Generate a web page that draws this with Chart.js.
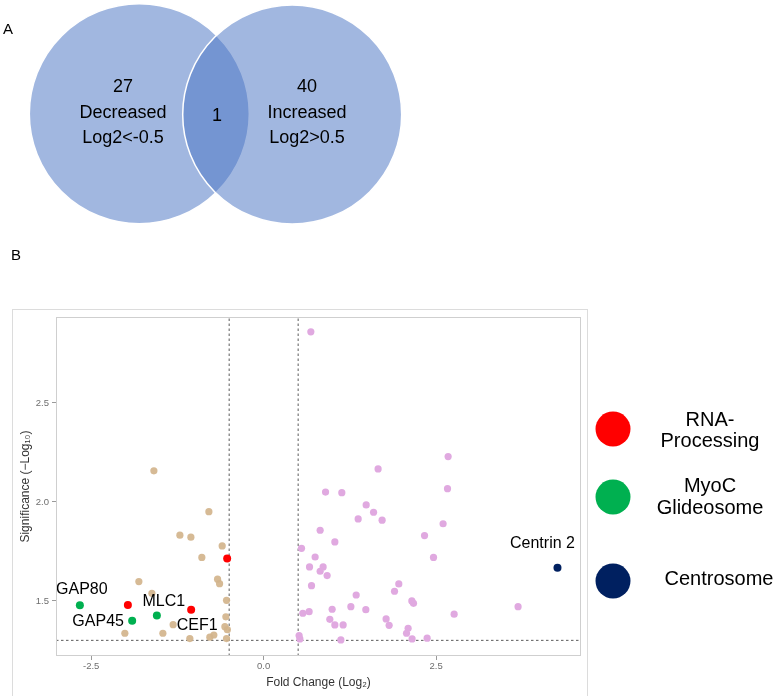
<!DOCTYPE html>
<html><head><meta charset="utf-8">
<script src="https://cdn.jsdelivr.net/npm/chart.js@4"></script>
<style>
html,body{margin:0;padding:0;background:#fff;}
#wrap{position:relative;width:780px;height:696px;overflow:hidden;font-family:'Liberation Sans',Arial,sans-serif;}
canvas{position:absolute;left:0;top:0;}
#venn{pointer-events:none;}
.panel{position:absolute;font-size:15px;color:#000;line-height:1;}
</style></head><body>
<div id="wrap">
<canvas id="volcano" width="780" height="696"></canvas>
<canvas id="venn" width="420" height="240"></canvas>
<div class="panel" style="left:3px;top:21px">A</div>
<div class="panel" style="left:11px;top:247px">B</div>
</div>
<script>
// ---------- Venn data ----------
const vennCounts = [27, 1, 40];
const vennNames  = ['Decreased', '', 'Increased'];
const vennRules  = ['Log2<-0.5', '', 'Log2>0.5'];

// ---------- Volcano data (Fold Change Log2, Significance -Log10) ----------
const decreasedFC  = [-1.591,-0.794,-1.214,-1.055,-0.601,-0.896,-1.809,-0.668,-0.639,-1.620,-0.538,-0.548,-1.312,-0.562,-1.461,-2.012,-1.070,-0.780,-0.722,-0.526,-0.538];
const decreasedSig = [ 2.157, 1.951, 1.832, 1.822, 1.778, 1.720, 1.598, 1.610, 1.587, 1.539, 1.503, 1.420, 1.380, 1.370, 1.337, 1.337, 1.310, 1.317, 1.328, 1.355, 1.310];

const increasedFC  = [0.684,2.674,1.659,0.897,1.133,2.665,1.486,1.593,1.370,1.717,2.601,0.819,2.332,1.032,0.549,2.462,0.746,0.665,0.862,0.819,0.920,0.694,1.959,1.897,1.341,2.148,2.172,1.264,3.688,0.568,0.659,0.993,1.481,2.761,0.959,1.775,1.032,1.152,1.819,2.094,2.071,0.514,0.525,1.119,2.152,2.370];
const increasedSig = [2.859,2.229,2.167,2.050,2.047,2.067,1.985,1.948,1.914,1.908,1.890,1.857,1.830,1.798,1.766,1.720,1.722,1.672,1.672,1.650,1.628,1.577,1.586,1.549,1.530,1.500,1.488,1.471,1.471,1.438,1.446,1.458,1.456,1.433,1.407,1.409,1.379,1.379,1.377,1.362,1.337,1.325,1.308,1.303,1.308,1.312];

const rnaFC    = [-0.529, -1.968, -1.051];
const rnaSig   = [ 1.714,  1.480,  1.455];
const rnaNames = ['', '', 'CEF1'];

const myoFC    = [-2.664, -1.906, -1.548];
const myoSig   = [ 1.478,  1.400,  1.426];
const myoNames = ['GAP80', 'GAP45', 'MLC1'];

const centroFC    = [4.259];
const centroSig   = [1.668];
const centroNames = ['Centrin 2'];

const legendLabels = [['RNA-','Processing'], ['MyoC','Glideosome'], ['Centrosome']];

const xTicks = [-2.5, 0.0, 2.5];
const yTicks = [1.5, 2.0, 2.5];
const fcThresholds  = [-0.5, 0.5];
const sigThresholds = [1.301];
const xRange = [-3.01, 4.60];
const yRange = [1.222, 2.934];

// ---------- styles / layout (not data) ----------
const FONT = "'Liberation Sans', Arial, sans-serif";
const colors = {dec:'rgba(210,180,140,0.92)', inc:'#e0a9e0', rna:'#ff0000', myo:'#00b050', centro:'#002060'};
const vennLayout = {
  circles:[{x:139.3,y:113.7,r:110},{x:292.2,y:114.5,r:109.5}],
  textX:[123, 217, 307], textY:[87, 113, 138], oneY:116
};
const labelOffsets = {'GAP80':[2,-16], 'GAP45':[-34,1], 'MLC1':[7,-14], 'CEF1':[6,16], 'Centrin 2':[-15,-24]};
const legendLayout = {cx:613, r:17.5, cy:[429,497,581], tx:[710,710,719], ty:[[420,441],[486,508],[579]]};

const pts = (xs, ys) => xs.map((x,i)=>({x, y:ys[i]}));

// ---------- Venn chart ----------
const vennText = {
  id:'vennText',
  afterDatasetsDraw(chart){
    const {ctx, scales:{x, y}} = chart;
    ctx.save();
    ctx.fillStyle = '#000';
    ctx.font = '18px ' + FONT;
    ctx.textAlign = 'center';
    ctx.textBaseline = 'middle';
    [0,2].forEach(i=>{
      const px = x.getPixelForValue(vennLayout.textX[i]);
      ctx.fillText(String(vennCounts[i]), px, y.getPixelForValue(vennLayout.textY[0]));
      ctx.fillText(vennNames[i], px, y.getPixelForValue(vennLayout.textY[1]));
      ctx.fillText(vennRules[i], px, y.getPixelForValue(vennLayout.textY[2]));
    });
    ctx.fillText(String(vennCounts[1]), x.getPixelForValue(vennLayout.textX[1]), y.getPixelForValue(vennLayout.oneY));
    ctx.restore();
  }
};
new Chart(document.getElementById('venn'), {
  type:'bubble',
  data:{datasets:[{
    data: vennLayout.circles.map(c=>({x:c.x, y:c.y, r:c.r})),
    backgroundColor:'rgba(75,117,195,0.52)', borderColor:'#ffffff', borderWidth:1.5,
    hoverRadius:0, clip:false
  }]},
  options:{responsive:false, animation:false, events:[], layout:{padding:0, autoPadding:false},
    plugins:{legend:{display:false}, tooltip:{enabled:false}},
    scales:{x:{display:false, min:0, max:420}, y:{display:false, min:0, max:240, reverse:true}}},
  plugins:[vennText]
});

// ---------- Volcano chart ----------
const frame = {
  id:'frame',
  beforeDraw(chart){
    const {ctx} = chart;
    ctx.save();
    ctx.strokeStyle = '#dcdcdc'; ctx.lineWidth = 1;
    ctx.strokeRect(12.5, 309.5, 575, 400);
    ctx.restore();
  },
  afterDraw(chart){
    const {ctx, chartArea:a} = chart;
    ctx.save();
    ctx.strokeStyle = '#cfcfcf'; ctx.lineWidth = 1;
    ctx.strokeRect(Math.round(a.left)+0.5, Math.round(a.top)+0.5, Math.round(a.right-a.left)-1, Math.round(a.bottom-a.top)-1);
    ctx.restore();
  }
};
const pointLabels = {
  id:'pointLabels',
  afterDatasetsDraw(chart){
    const {ctx} = chart;
    ctx.save();
    ctx.fillStyle = '#000';
    ctx.font = '16px ' + FONT;
    ctx.textAlign = 'center';
    ctx.textBaseline = 'middle';
    chart.data.datasets.forEach((ds, di)=>{
      if(!ds.names) return;
      const meta = chart.getDatasetMeta(di);
      ds.names.forEach((n, j)=>{
        if(!n) return;
        const el = meta.data[j];
        const off = labelOffsets[n] || [0,-14];
        ctx.fillText(n, el.x + off[0], el.y + off[1]);
      });
    });
    ctx.restore();
  }
};
const sideLegend = {
  id:'sideLegend',
  afterDraw(chart){
    const {ctx} = chart;
    const cols = [colors.rna, colors.myo, colors.centro];
    ctx.save();
    ctx.font = '20px ' + FONT;
    ctx.textAlign = 'center';
    ctx.textBaseline = 'middle';
    legendLabels.forEach((lines, i)=>{
      ctx.fillStyle = cols[i];
      ctx.beginPath();
      ctx.arc(legendLayout.cx, legendLayout.cy[i], legendLayout.r, 0, Math.PI*2);
      ctx.fill();
      ctx.fillStyle = '#000';
      lines.forEach((t, k)=> ctx.fillText(t, legendLayout.tx[i], legendLayout.ty[i][k]));
    });
    ctx.restore();
  }
};

const dashStyle = {type:'scatter', showLine:true, borderColor:'#5a5a5a', borderWidth:1, borderDash:[2.5,2.5], pointRadius:0, pointHoverRadius:0, order:10, clip:false};

new Chart(document.getElementById('volcano'), {
  type:'scatter',
  data:{datasets:[
    {data:pts(centroFC, centroSig), names:centroNames, backgroundColor:colors.centro, pointRadius:4, borderWidth:0, order:0},
    {data:pts(rnaFC, rnaSig), names:rnaNames, backgroundColor:colors.rna, pointRadius:4, borderWidth:0, order:1},
    {data:pts(myoFC, myoSig), names:myoNames, backgroundColor:colors.myo, pointRadius:4, borderWidth:0, order:1},
    {data:pts(decreasedFC, decreasedSig), backgroundColor:colors.dec, pointRadius:3.6, borderWidth:0, order:3},
    {data:pts(increasedFC, increasedSig), backgroundColor:colors.inc, pointRadius:3.6, borderWidth:0, order:3},
    ...fcThresholds.map(v=>Object.assign({data:[{x:v,y:yRange[0]},{x:v,y:yRange[1]}]}, dashStyle)),
    ...sigThresholds.map(v=>Object.assign({data:[{x:xRange[0],y:v},{x:xRange[1],y:v}]}, dashStyle))
  ]},
  options:{
    responsive:false, animation:false, events:[],
    layout:{padding:{left:12, top:317, right:199, bottom:0}},
    plugins:{legend:{display:false}, tooltip:{enabled:false}},
    scales:{
      x:{type:'linear', min:xRange[0], max:xRange[1],
        afterBuildTicks:s=>{ s.ticks = xTicks.map(v=>({value:v})); },
        afterFit:s=>{ s.height = 40; },
        grid:{drawOnChartArea:false, drawTicks:true, tickLength:4, tickColor:'#9a9a9a'},
        border:{display:false},
        ticks:{padding:1, color:'#6e6e6e', font:{family:FONT, size:9.5}, callback:v=>Number(v).toFixed(1), maxRotation:0},
        title:{display:true, text:'Fold Change (Log\u2082)', color:'#333', font:{family:FONT, size:12}, padding:{top:0, bottom:6}}
      },
      y:{type:'linear', min:yRange[0], max:yRange[1],
        afterBuildTicks:s=>{ s.ticks = yTicks.map(v=>({value:v})); },
        afterFit:s=>{ s.width = 44; },
        grid:{drawOnChartArea:false, drawTicks:true, tickLength:4, tickColor:'#9a9a9a'},
        border:{display:false},
        ticks:{padding:3, color:'#6e6e6e', font:{family:FONT, size:9.5}, callback:v=>Number(v).toFixed(1)},
        title:{display:true, text:'Significance (\u2212Log\u2081\u2080)', color:'#333', font:{family:FONT, size:12}, padding:{top:6, bottom:0}}
      }
    }
  },
  plugins:[frame, pointLabels, sideLegend]
});
</script>
</body></html>
